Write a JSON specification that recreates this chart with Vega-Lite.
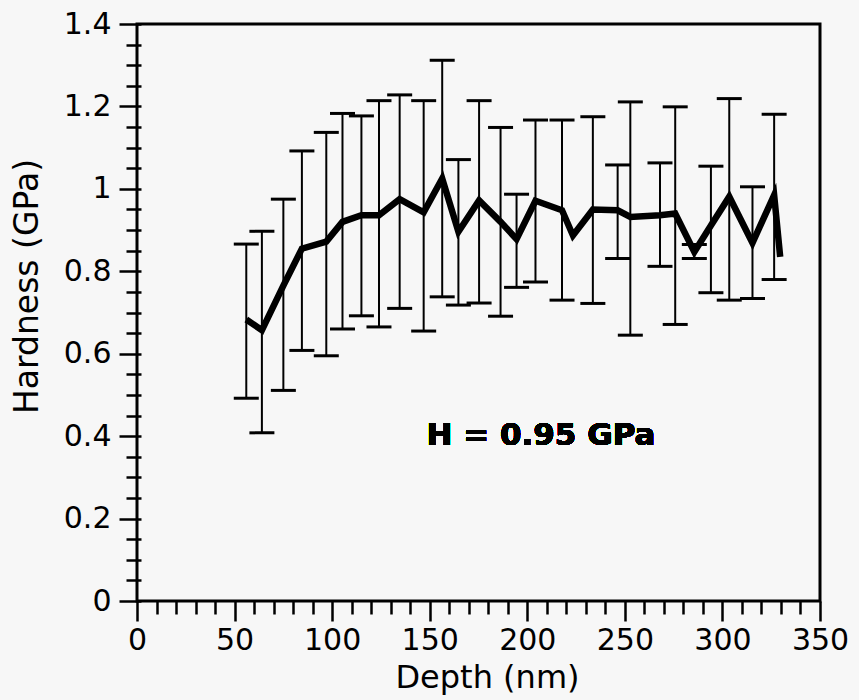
{
  "$schema": "https://vega.github.io/schema/vega-lite/v6.json",
  "width": 683,
  "height": 577,
  "autosize": {"type": "none"},
  "padding": {"left": 137, "top": 24, "right": 39, "bottom": 99},
  "background": "#f7f7f7",
  "config": {"view": {"stroke": "black", "strokeWidth": 3}, "font": "DejaVu Sans"},
  "data": {"values": [
    {"depth": 56, "h": 0.683, "lo": 0.492, "hi": 0.866},
    {"depth": 64, "h": 0.657, "lo": 0.408, "hi": 0.897},
    {"depth": 75, "h": 0.765, "lo": 0.511, "hi": 0.975},
    {"depth": 84.5, "h": 0.855, "lo": 0.608, "hi": 1.092},
    {"depth": 97, "h": 0.872, "lo": 0.595, "hi": 1.137},
    {"depth": 105.3, "h": 0.92, "lo": 0.66, "hi": 1.183},
    {"depth": 115, "h": 0.936, "lo": 0.692, "hi": 1.177},
    {"depth": 124, "h": 0.936, "lo": 0.665, "hi": 1.214},
    {"depth": 134.6, "h": 0.975, "lo": 0.71, "hi": 1.228},
    {"depth": 146.9, "h": 0.943, "lo": 0.655, "hi": 1.214},
    {"depth": 156.4, "h": 1.025, "lo": 0.738, "hi": 1.312},
    {"depth": 164.7, "h": 0.896, "lo": 0.718, "hi": 1.071},
    {"depth": 175.3, "h": 0.972, "lo": 0.723, "hi": 1.214},
    {"depth": 186.3, "h": 0.92, "lo": 0.691, "hi": 1.149},
    {"depth": 194.5, "h": 0.878, "lo": 0.761, "hi": 0.987},
    {"depth": 204.2, "h": 0.971, "lo": 0.774, "hi": 1.167},
    {"depth": 217.8, "h": 0.948, "lo": 0.73, "hi": 1.167},
    {"depth": 223.4, "h": 0.887, "lo": null, "hi": null},
    {"depth": 233.6, "h": 0.95, "lo": 0.722, "hi": 1.175},
    {"depth": 246.3, "h": 0.948, "lo": 0.831, "hi": 1.058},
    {"depth": 252.8, "h": 0.932, "lo": 0.645, "hi": 1.211},
    {"depth": 268, "h": 0.936, "lo": 0.812, "hi": 1.063},
    {"depth": 275.8, "h": 0.94, "lo": 0.671, "hi": 1.199},
    {"depth": 285.6, "h": 0.847, "lo": 0.831, "hi": 0.865},
    {"depth": 294.1, "h": 0.911, "lo": 0.748, "hi": 1.055},
    {"depth": 303.5, "h": 0.981, "lo": 0.73, "hi": 1.219},
    {"depth": 315.4, "h": 0.869, "lo": 0.734, "hi": 1.005},
    {"depth": 326.5, "h": 0.985, "lo": 0.78, "hi": 1.181},
    {"depth": 329.6, "h": 0.835, "lo": null, "hi": null}
  ]},
  "layer": [
    {
      "transform": [{"filter": "isValid(datum.lo)"}],
      "mark": {"type": "rule", "color": "black", "strokeWidth": 2},
      "encoding": {
        "x": {
          "field": "depth", "type": "quantitative",
          "scale": {"domain": [0, 350], "nice": false, "zero": false},
          "axis": {
            "values": [0,10,20,30,40,50,60,70,80,90,100,110,120,130,140,150,160,170,180,190,200,210,220,230,240,250,260,270,280,290,300,310,320,330,340,350],
            "tickCount": 200,
            "tickSize": {"condition": {"test": "datum.value % 50 === 0", "value": 20}, "value": 13},
            "tickWidth": 2.5, "tickColor": "black",
            "labelExpr": "datum.value % 50 === 0 ? datum.label : ''",
            "labelFontSize": 30, "labelColor": "black", "labelPadding": 4, "labelFont": "DejaVu Sans",
            "labelFlush": false, "labelOverlap": false, "labelBaseline": "top",
            "domain": false, "grid": false,
            "title": "Depth (nm)", "titleFontSize": 32, "titleFontWeight": "normal", "titleColor": "black",
            "titleFont": "DejaVu Sans", "titleBaseline": "alphabetic", "titleY": 86, "titleX": 350
          }
        },
        "y": {
          "field": "lo", "type": "quantitative",
          "scale": {"domain": [0, 1.4], "nice": false, "zero": false},
          "axis": {
            "values": [0,0.05,0.1,0.15,0.2,0.25,0.3,0.35,0.4,0.45,0.5,0.55,0.6,0.65,0.7,0.75,0.8,0.85,0.9,0.95,1,1.05,1.1,1.15,1.2,1.25,1.3,1.35,1.4],
            "tickCount": 200,
            "offset": -4,
            "tickSize": {"condition": {"test": "round(datum.value*20) % 4 === 0", "value": 22}, "value": 15},
            "tickWidth": 2.5, "tickColor": "black",
            "labelExpr": "round(datum.value*20) % 4 === 0 ? format(datum.value, '~g') : ''",
            "labelFontSize": 30, "labelColor": "black", "labelPadding": 8, "labelFont": "DejaVu Sans",
            "labelFlush": false, "labelOverlap": false,
            "domain": false, "grid": false,
            "title": "Hardness (GPa)", "titleFontSize": 33, "titleFontWeight": "normal", "titleColor": "black",
            "titleFont": "DejaVu Sans", "titleBaseline": "alphabetic", "titleX": -104, "titleY": 262
          }
        },
        "y2": {"field": "hi"}
      }
    },
    {
      "transform": [{"filter": "isValid(datum.lo)"}],
      "mark": {"type": "tick", "orient": "horizontal", "size": 25, "thickness": 3, "color": "black", "opacity": 1},
      "encoding": {
        "x": {"field": "depth", "type": "quantitative", "title": "Depth (nm)"},
        "y": {"field": "lo", "type": "quantitative", "title": "Hardness (GPa)"}
      }
    },
    {
      "transform": [{"filter": "isValid(datum.hi)"}],
      "mark": {"type": "tick", "orient": "horizontal", "size": 25, "thickness": 3, "color": "black", "opacity": 1},
      "encoding": {
        "x": {"field": "depth", "type": "quantitative", "title": "Depth (nm)"},
        "y": {"field": "hi", "type": "quantitative", "title": "Hardness (GPa)"}
      }
    },
    {
      "mark": {"type": "line", "color": "black", "strokeWidth": 6.5, "strokeJoin": "miter"},
      "encoding": {
        "x": {"field": "depth", "type": "quantitative", "title": "Depth (nm)"},
        "y": {"field": "h", "type": "quantitative", "title": "Hardness (GPa)"}
      }
    },
    {
      "mark": {"type": "text", "text": "H = 0.95 GPa", "fontSize": 31, "fontWeight": "bold", "font": "DejaVu Sans", "baseline": "alphabetic", "align": "center", "color": "black"},
      "encoding": {
        "x": {"datum": 207, "type": "quantitative"},
        "y": {"datum": 0.378, "type": "quantitative"}
      }
    }
  ]
}
